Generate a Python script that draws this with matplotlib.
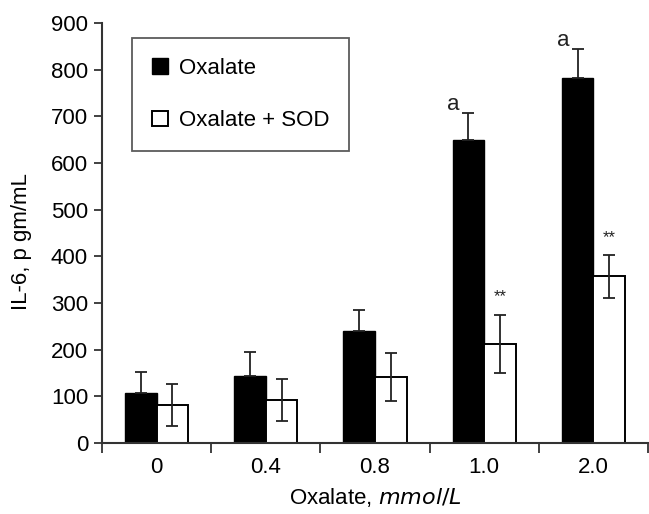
import numpy as np
import matplotlib.pyplot as plt

plt.rcParams['font.family'] = ['Liberation Sans', 'DejaVu Sans']

doses = ["0", "0.4", "0.8", "1.0", "2.0"]
oxalate = [107, 144, 240, 649, 782]
oxalate_err = [45, 50, 45, 58, 63]
oxalate_sod = [82, 92, 141, 212, 357]
oxalate_sod_err = [45, 45, 52, 63, 46]

x = np.arange(len(doses))
w = 0.29

fig = plt.figure(figsize=(6.49, 5.14), dpi=100)
ax = fig.add_axes([102/649, 71/514, 546/649, 420/514])

ax.bar(x - w/2, oxalate, w, color='black', edgecolor='black', linewidth=1,
       label="Oxalate", zorder=2)
ax.errorbar(x - w/2, oxalate, yerr=[np.zeros(len(x)), oxalate_err], fmt='none',
            ecolor='#222222', elinewidth=1.3, capsize=4.5, capthick=1.3, zorder=3)
ax.bar(x + w/2, oxalate_sod, w, color='white', edgecolor='black', linewidth=1.4,
       label="Oxalate + SOD", zorder=2)
ax.errorbar(x + w/2, oxalate_sod, yerr=oxalate_sod_err, fmt='none',
            ecolor='#222222', elinewidth=1.3, capsize=4.5, capthick=1.3, zorder=3)

# significance marks
for i in [3, 4]:
    ax.text(x[i] - w + 0.01, oxalate[i] + oxalate_err[i] + 6, "a",
            ha='center', va='baseline', fontsize=16, color='#222222')
    ax.text(x[i] + w/2, oxalate_sod[i] + oxalate_sod_err[i] + 22, "**",
            ha='center', va='bottom', fontsize=12, color='#222222')

ax.set_xlim(-0.5, 4.5)
ax.set_ylim(0, 900)
ax.set_yticks(np.arange(0, 901, 100))
ax.set_xticks(x)
ax.set_xticklabels(doses)
ax.set_xticks(np.arange(-0.5, 4.6, 1), minor=True)
ax.tick_params(axis='x', which='major', length=0, pad=10, labelsize=16)
ax.tick_params(axis='x', which='minor', length=7, width=1.3, direction='out',
               color='#333333')
ax.tick_params(axis='y', length=6, width=1.3, direction='out', labelsize=16,
               color='#333333', pad=4)
for s in ['top', 'right']:
    ax.spines[s].set_visible(False)
for s in ['left', 'bottom']:
    ax.spines[s].set_linewidth(1.5)
    ax.spines[s].set_color('#333333')

ax.set_ylabel("IL-6, p gm/mL", fontsize=16)
ax.yaxis.set_label_coords(-0.128, 0.48)
ax.set_xlabel("Oxalate, $\\mathit{mmol/L}$", fontsize=16, labelpad=6)

leg = ax.legend(loc='upper left', bbox_to_anchor=(30/546, 1 - 15/420),
                fontsize=16, frameon=True, fancybox=False, edgecolor='#333333',
                handlelength=0.7, handleheight=0.7, labelspacing=1.4,
                borderpad=0.9, handletextpad=0.5, borderaxespad=0)
leg.get_frame().set_linewidth(1.3)

fig.savefig("out.png", dpi=100)
